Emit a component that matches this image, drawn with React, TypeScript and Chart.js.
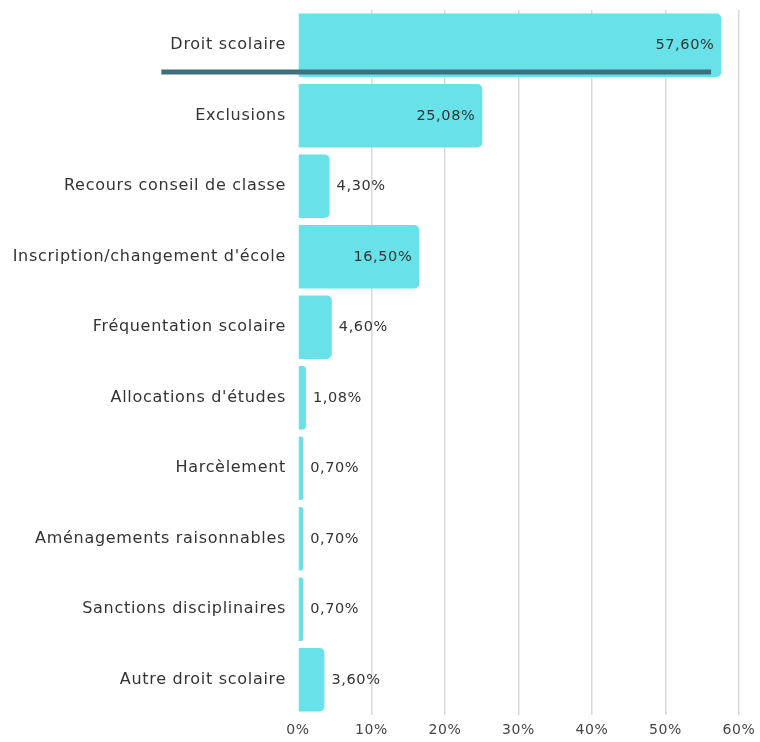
import React, { useEffect, useRef } from "react";
import { Chart, registerables } from "chart.js";

Chart.register(...registerables);

const categories = [
  "Droit scolaire",
  "Exclusions",
  "Recours conseil de classe",
  "Inscription/changement d'école",
  "Fréquentation scolaire",
  "Allocations d'études",
  "Harcèlement",
  "Aménagements raisonnables",
  "Sanctions disciplinaires",
  "Autre droit scolaire",
];
const values = [57.6, 25.08, 4.3, 16.5, 4.6, 1.08, 0.7, 0.7, 0.7, 3.6];
const xTicks = [0, 10, 20, 30, 40, 50, 60];
const highlightIndex = 0;
const highlightEnd = 56.2;

const FONT = "'DejaVu Sans', sans-serif";
const BAR = "#68E2E8";
const TEXT = "#333333";
const LABEL_SPACING = "0.7px";

const fmt = (v: number) => v.toFixed(2).replace(".", ",") + "%";

const spacing = {
  id: "spacing",
  beforeLayout(chart: any) {
    chart.ctx.letterSpacing = LABEL_SPACING;
  },
  beforeDraw(chart: any) {
    chart.ctx.letterSpacing = LABEL_SPACING;
  },
};

const valueLabels = {
  id: "valueLabels",
  afterDatasetsDraw(chart: any) {
    const ctx = chart.ctx;
    const meta = chart.getDatasetMeta(0);
    ctx.save();
    ctx.letterSpacing = "0.6px";
    ctx.font = `14.5px ${FONT}`;
    ctx.fillStyle = TEXT;
    ctx.textBaseline = "middle";
    meta.data.forEach((bar: any, i: number) => {
      const v = values[i];
      if (v > 10) {
        ctx.textAlign = "right";
        ctx.fillText(fmt(v), bar.x - 7, bar.y);
      } else {
        ctx.textAlign = "left";
        ctx.fillText(fmt(v), bar.x + 7, bar.y);
      }
    });
    const yScale = chart.scales.y;
    const xScale = chart.scales.x;
    const bar = meta.data[highlightIndex];
    const props = bar.getProps(["y", "height"], true);
    ctx.letterSpacing = LABEL_SPACING;
    ctx.font = `16px ${FONT}`;
    const labelW = ctx.measureText(categories[highlightIndex]).width;
    const labelRight = yScale.right - 12;
    const left = labelRight - labelW - 9;
    const right = xScale.getPixelForValue(highlightEnd);
    const y = props.y + props.height / 2 - 5;
    ctx.strokeStyle = "#3F6F7D";
    ctx.lineWidth = 5;
    ctx.beginPath();
    ctx.moveTo(left, y);
    ctx.lineTo(right, y);
    ctx.stroke();
    ctx.restore();
  },
};

export default function App() {
  const ref = useRef<HTMLCanvasElement>(null);
  useEffect(() => {
    document.body.style.margin = "0";
    const chart = new Chart(ref.current!, {
      type: "bar",
      data: {
        labels: categories,
        datasets: [
          {
            data: values,
            backgroundColor: BAR,
            borderRadius: 5,
            borderSkipped: "start",
            barPercentage: 0.9,
            categoryPercentage: 1,
          },
        ],
      },
      options: {
        indexAxis: "y",
        animation: false,
        responsive: false,
        layout: { padding: { top: 10, right: 21, left: 0, bottom: 0 } },
        plugins: { legend: { display: false }, tooltip: { enabled: false } },
        scales: {
          x: {
            min: 0,
            max: 60,
            afterBuildTicks: (s: any) => {
              s.ticks = xTicks.map((v) => ({ value: v }));
            },
            afterFit: (s: any) => {
              s.height = 27;
              s.paddingLeft = 0;
              s.paddingRight = 0;
            },
            ticks: {
              font: { family: FONT, size: 14 },
              color: "#444",
              padding: 7,
              callback: (v: any) => v + "%",
            },
            grid: {
              color: (c: any) => (c.tick && c.tick.value === 0 ? "rgba(0,0,0,0)" : "#D8D8D8"),
              lineWidth: 1.5,
              drawTicks: false,
            },
            border: { display: false },
          },
          y: {
            afterFit: (s: any) => {
              s.width = 298;
              s.paddingTop = 0;
              s.paddingBottom = 0;
            },
            ticks: {
              font: { family: FONT, size: 16 },
              color: TEXT,
              padding: 12,
            },
            grid: { display: false, drawTicks: false },
            border: { display: false },
          },
        },
      },
      plugins: [spacing, valueLabels],
    });
    return () => chart.destroy();
  }, []);
  return <canvas ref={ref} width={760} height={742} style={{ display: "block" }} />;
}
